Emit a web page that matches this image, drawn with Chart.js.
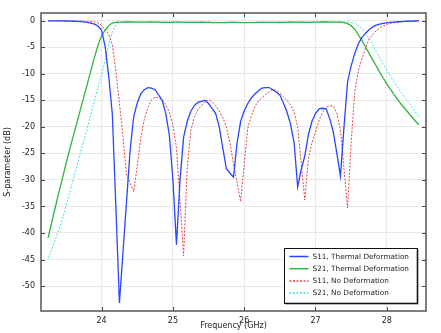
<!DOCTYPE html>
<html>
<head>
<meta charset="utf-8">
<script src="https://cdn.jsdelivr.net/npm/chart.js@4.4.1/dist/chart.umd.min.js"></script>
<style>
  html, body { margin: 0; padding: 0; background: #fff; }
  canvas { display: block; }
</style>
</head>
<body>
<canvas id="chart" width="441" height="333"></canvas>
<script>
// Data
const freq = [
  23.25, 23.30, 23.35, 23.40, 23.45, 23.50, 23.55, 23.60, 23.65, 23.70,
  23.75, 23.80, 23.85, 23.90, 23.95, 24.00, 24.05, 24.10, 24.15, 24.20,
  24.25, 24.30, 24.35, 24.40, 24.45, 24.50, 24.55, 24.60, 24.65, 24.70,
  24.75, 24.80, 24.85, 24.90, 24.95, 25.00, 25.05, 25.10, 25.15, 25.20,
  25.25, 25.30, 25.35, 25.40, 25.45, 25.50, 25.55, 25.60, 25.65, 25.70,
  25.75, 25.80, 25.85, 25.90, 25.95, 26.00, 26.05, 26.10, 26.15, 26.20,
  26.25, 26.30, 26.35, 26.40, 26.45, 26.50, 26.55, 26.60, 26.65, 26.70,
  26.75, 26.80, 26.85, 26.90, 26.95, 27.00, 27.05, 27.10, 27.15, 27.20,
  27.25, 27.30, 27.35, 27.40, 27.45, 27.50, 27.55, 27.60, 27.65, 27.70,
  27.75, 27.80, 27.85, 27.90, 27.95, 28.00, 28.05, 28.10, 28.15, 28.20,
  28.25, 28.30, 28.35, 28.40, 28.45
];
const s11Thermal = [
  -0.02, -0.02, -0.03, -0.04, -0.05, -0.06, -0.08, -0.10, -0.13, -0.17,
  -0.23, -0.32, -0.45, -0.65, -1.0, -1.8, -4.9, -10.5, -17.5, -35,
  -53.2, -43.6, -34.0, -24.4, -18.1, -15.5, -13.8, -13.0, -12.6, -12.7,
  -13.0, -14.0, -15.0, -17.5, -21.5, -30, -42.2, -30, -22.0, -19.0,
  -17.1, -16.0, -15.4, -15.2, -15.0, -15.6, -16.5, -17.5, -20.0, -24.0,
  -27.9, -28.7, -29.5, -23.0, -19.0, -17.0, -15.6, -14.6, -13.8, -13.2,
  -12.7, -12.6, -12.6, -13.0, -13.5, -14.0, -15.5, -17.2, -19.5, -23,
  -31.3, -28.0, -25.5, -21.5, -19.0, -17.5, -16.6, -16.5, -16.6, -18.5,
  -21.0, -25, -29.3, -20, -11.5, -8.5, -6.2, -4.4, -3.2, -2.4,
  -1.7, -1.2, -0.85, -0.65, -0.5, -0.4, -0.32, -0.26, -0.2, -0.16,
  -0.13, -0.1, -0.08, -0.06, -0.05
];
const s21Thermal = [
  -40.9, -38.0, -35.2, -32.4, -29.7, -27.0, -24.4, -21.9, -19.4, -16.9,
  -14.4, -11.9, -9.4, -6.9, -4.6, -2.8, -1.8, -0.9, -0.45, -0.32,
  -0.28, -0.26, -0.25, -0.25, -0.26, -0.27, -0.28, -0.27, -0.26, -0.25,
  -0.26, -0.28, -0.30, -0.31, -0.30, -0.28, -0.27, -0.28, -0.30, -0.32,
  -0.33, -0.32, -0.30, -0.29, -0.30, -0.32, -0.35, -0.37, -0.38, -0.37,
  -0.35, -0.33, -0.32, -0.33, -0.35, -0.37, -0.38, -0.37, -0.35, -0.33,
  -0.31, -0.30, -0.30, -0.31, -0.33, -0.34, -0.33, -0.31, -0.29, -0.28,
  -0.28, -0.29, -0.30, -0.31, -0.30, -0.28, -0.26, -0.25, -0.25, -0.26,
  -0.27, -0.27, -0.28, -0.35, -0.55, -0.95, -1.6, -2.6, -3.7, -4.9,
  -6.1, -7.3, -8.5, -9.7, -10.8, -11.9, -12.9, -13.9, -14.8, -15.7,
  -16.5, -17.3, -18.1, -18.9, -19.6
];
const s11NoDef = [
  -0.01, -0.01, -0.02, -0.02, -0.03, -0.03, -0.04, -0.05, -0.06, -0.07,
  -0.09, -0.12, -0.16, -0.22, -0.4, -0.9, -1.7, -2.6, -4.5, -9.5,
  -15.5, -21.8, -29.1, -30.6, -32.2, -27.5, -22.0, -18.5, -16.3, -14.9,
  -14.4, -14.5, -14.9, -15.8, -17.3, -19.6, -24, -34, -44.3, -28,
  -20.8, -18.2, -16.8, -16.0, -15.3, -14.9, -15.3, -16.0, -17.0, -18.3,
  -20.0, -23.1, -27, -30.5, -34.1, -27, -20.3, -18.0, -16.2, -15.1,
  -14.5, -13.9, -13.4, -13.0, -13.1, -13.6, -14.3, -15.0, -15.9, -17.2,
  -20.0, -27, -33.8, -26, -23.0, -21.0, -18.8, -17.2, -16.3, -16.0,
  -16.1, -17.5, -20.5, -28, -35.3, -23, -13.5, -9.5, -7.2, -5.2,
  -3.5, -2.6, -1.9, -1.4, -1.0, -0.7, -0.5, -0.4, -0.3, -0.22,
  -0.17, -0.13, -0.1, -0.08, -0.06
];
const s21NoDef = [
  -44.8, -43.1, -41.3, -39.4, -37.3, -35.0, -32.6, -30.0, -27.5, -25.0,
  -22.6, -20.2, -17.6, -15.0, -12.6, -10.2, -7.5, -4.4, -2.1, -0.8,
  -0.35, -0.28, -0.24, -0.22, -0.22, -0.23, -0.24, -0.25, -0.24, -0.23,
  -0.22, -0.23, -0.25, -0.27, -0.28, -0.27, -0.25, -0.24, -0.25, -0.27,
  -0.29, -0.30, -0.29, -0.27, -0.26, -0.27, -0.29, -0.31, -0.32, -0.31,
  -0.29, -0.28, -0.29, -0.31, -0.33, -0.34, -0.33, -0.31, -0.29, -0.28,
  -0.28, -0.29, -0.31, -0.32, -0.31, -0.29, -0.27, -0.26, -0.26, -0.27,
  -0.28, -0.29, -0.28, -0.26, -0.24, -0.23, -0.23, -0.24, -0.25, -0.25,
  -0.24, -0.23, -0.23, -0.24, -0.26, -0.32, -0.5, -0.9, -1.5, -2.3,
  -3.3, -4.5, -5.8, -7.0, -8.2, -9.3, -10.4, -11.5, -12.5, -13.5,
  -14.4, -15.3, -16.2, -17.2, -18.1
];
const seriesNames = ['S11, Thermal Deformation', 'S21, Thermal Deformation', 'S11, No Deformation', 'S21, No Deformation'];
const xTicks = [24, 25, 26, 27, 28];
const yTicks = [0, -5, -10, -15, -20, -25, -30, -35, -40, -45, -50];

const toPts = vals => freq.map((f, i) => ({ x: f, y: vals[i] }));

const styles = [
  { color: 'rgb(40,70,255)', width: 1.3, dash: [] },
  { color: 'rgb(50,180,60)', width: 1.3, dash: [] },
  { color: 'rgb(225,70,70)', width: 1, dash: [2, 1.5] },
  { color: 'rgb(60,225,225)', width: 1, dash: [2, 1.5] }
];
const allSeries = [s11Thermal, s21Thermal, s11NoDef, s21NoDef];

// frame, inward ticks and the boxed legend
const framePlugin = {
  id: 'frame',
  afterDraw(chart) {
    const { ctx, chartArea: a, scales: { x, y } } = chart;
    ctx.save();
    ctx.strokeStyle = '#444';
    ctx.lineWidth = 1;
    ctx.beginPath();
    for (const v of xTicks) {
      const px = Math.round(x.getPixelForValue(v)) + 0.5;
      ctx.moveTo(px, a.bottom); ctx.lineTo(px, a.bottom - 4);
      ctx.moveTo(px, a.top); ctx.lineTo(px, a.top + 4);
    }
    for (const v of yTicks) {
      const py = Math.round(y.getPixelForValue(v)) + 0.5;
      ctx.moveTo(a.left, py); ctx.lineTo(a.left + 4, py);
      ctx.moveTo(a.right, py); ctx.lineTo(a.right - 4, py);
    }
    ctx.stroke();
    ctx.strokeStyle = '#555';
    ctx.lineWidth = 1.5;
    ctx.strokeRect(a.left, a.top, a.right - a.left, a.bottom - a.top);

    // legend
    const bw = 133, bh = 55;
    const bx = a.right - 9.5 - bw, by = a.bottom - 8.5 - bh;
    ctx.fillStyle = '#777';
    ctx.fillRect(bx + 2, by + 2, bw, bh);
    ctx.fillStyle = '#fff';
    ctx.fillRect(bx, by, bw, bh);
    ctx.strokeStyle = '#111';
    ctx.lineWidth = 1;
    ctx.strokeRect(Math.round(bx) + 0.5, Math.round(by) + 0.5, bw, bh);
    ctx.font = '7.3px "DejaVu Sans"';
    ctx.textBaseline = 'middle';
    ctx.fillStyle = '#222';
    seriesNames.forEach((name, i) => {
      const ly = by + 9 + i * 12.2;
      const s = styles[i];
      ctx.beginPath();
      ctx.strokeStyle = s.color;
      ctx.lineWidth = 1.5;
      ctx.setLineDash(s.dash);
      ctx.moveTo(bx + 6, ly); ctx.lineTo(bx + 25, ly);
      ctx.stroke();
      ctx.setLineDash([]);
      ctx.fillText(name, bx + 29, ly + 0.5);
    });
    ctx.restore();
  }
};

Chart.defaults.font.family = '"DejaVu Sans", sans-serif';
Chart.defaults.font.size = 8;
Chart.defaults.color = '#222';

new Chart(document.getElementById('chart').getContext('2d'), {
  type: 'line',
  data: {
    datasets: allSeries.map((vals, i) => ({
      label: seriesNames[i],
      data: toPts(vals),
      borderColor: styles[i].color,
      borderWidth: styles[i].width,
      borderDash: styles[i].dash,
      pointRadius: 0,
      tension: 0,
      fill: false
    }))
  },
  options: {
    responsive: false,
    animation: false,
    devicePixelRatio: 1,
    layout: { padding: { left: 0, right: 15, top: 13, bottom: 0 } },
    plugins: { legend: { display: false }, tooltip: { enabled: false } },
    scales: {
      x: {
        type: 'linear',
        min: 23.15,
        max: 28.55,
        afterBuildTicks: s => { s.ticks = xTicks.map(v => ({ value: v })); },
        afterFit: s => { s.height = 22; },
        ticks: { padding: 5, maxRotation: 0, autoSkip: false },
        grid: { color: '#e8e8e8', drawTicks: false },
        border: { display: false },
        title: { display: true, text: 'Frequency (GHz)', padding: { top: 0, bottom: 2 }, font: { size: 8 } }
      },
      y: {
        type: 'linear',
        min: -54.7,
        max: 1.45,
        afterBuildTicks: s => { s.ticks = yTicks.map(v => ({ value: v })); },
        afterFit: s => { s.width = 41; },
        ticks: { padding: 6, autoSkip: false },
        grid: { color: '#e8e8e8', drawTicks: false },
        border: { display: false },
        title: { display: true, text: 'S-parameter (dB)', padding: { top: 3, bottom: 0 }, font: { size: 8 } }
      }
    }
  },
  plugins: [framePlugin]
});
</script>
</body>
</html>
